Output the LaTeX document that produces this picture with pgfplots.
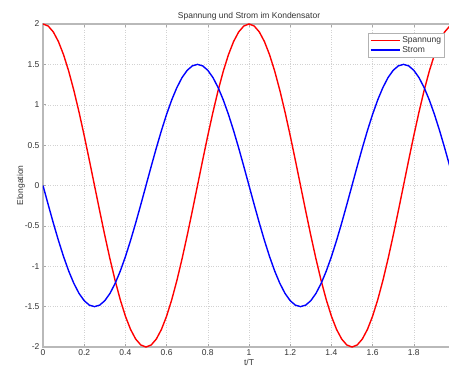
\documentclass[border=0pt]{standalone}
\usepackage{pgfplots}
\pgfplotsset{compat=1.18}
\usepackage{pgfplotstable}
\usepackage{fontspec}
\setmainfont{Liberation Sans}
\pgfplotstableread{
t u i
0 2 0
0.025 1.9754 -0.2346
0.05 1.9021 -0.4635
0.075 1.7820 -0.6810
0.1 1.6180 -0.8817
0.125 1.4142 -1.0607
0.15 1.1756 -1.2135
0.175 0.9080 -1.3365
0.2 0.6180 -1.4266
0.225 0.3129 -1.4815
0.25 0 -1.5
0.275 -0.3129 -1.4815
0.3 -0.6180 -1.4266
0.325 -0.9080 -1.3365
0.35 -1.1756 -1.2135
0.375 -1.4142 -1.0607
0.4 -1.6180 -0.8817
0.425 -1.7820 -0.6810
0.45 -1.9021 -0.4635
0.475 -1.9754 -0.2346
0.5 -2 0
0.525 -1.9754 0.2346
0.55 -1.9021 0.4635
0.575 -1.7820 0.6810
0.6 -1.6180 0.8817
0.625 -1.4142 1.0607
0.65 -1.1756 1.2135
0.675 -0.9080 1.3365
0.7 -0.6180 1.4266
0.725 -0.3129 1.4815
0.75 0 1.5
0.775 0.3129 1.4815
0.8 0.6180 1.4266
0.825 0.9080 1.3365
0.85 1.1756 1.2135
0.875 1.4142 1.0607
0.9 1.6180 0.8817
0.925 1.7820 0.6810
0.95 1.9021 0.4635
0.975 1.9754 0.2346
1 2 0
1.025 1.9754 -0.2346
1.05 1.9021 -0.4635
1.075 1.7820 -0.6810
1.1 1.6180 -0.8817
1.125 1.4142 -1.0607
1.15 1.1756 -1.2135
1.175 0.9080 -1.3365
1.2 0.6180 -1.4266
1.225 0.3129 -1.4815
1.25 0 -1.5
1.275 -0.3129 -1.4815
1.3 -0.6180 -1.4266
1.325 -0.9080 -1.3365
1.35 -1.1756 -1.2135
1.375 -1.4142 -1.0607
1.4 -1.6180 -0.8817
1.425 -1.7820 -0.6810
1.45 -1.9021 -0.4635
1.475 -1.9754 -0.2346
1.5 -2 0
1.525 -1.9754 0.2346
1.55 -1.9021 0.4635
1.575 -1.7820 0.6810
1.6 -1.6180 0.8817
1.625 -1.4142 1.0607
1.65 -1.1756 1.2135
1.675 -0.9080 1.3365
1.7 -0.6180 1.4266
1.725 -0.3129 1.4815
1.75 0 1.5
1.775 0.3129 1.4815
1.8 0.6180 1.4266
1.825 0.9080 1.3365
1.85 1.1756 1.2135
1.875 1.4142 1.0607
1.9 1.6180 0.8817
1.925 1.7820 0.6810
1.95 1.9021 0.4635
1.975 1.9754 0.2346
2 2 0
}\datatable
\begin{document}
\begin{tikzpicture}[x=1pt,y=1pt]
\begin{axis}[
  scale only axis,
  width=412pt, height=323pt,
  at={(43pt,25pt)}, anchor=south west,
  xmin=0, xmax=2, ymin=-2, ymax=2,
  xtick={0,0.2,...,1.8},
  xticklabels={0,0.2,0.4,0.6,0.8,1,1.2,1.4,1.6,1.8},
  ytick={-2,-1.5,...,2},
  yticklabels={-2,-1.5,-1,-0.5,0,0.5,1,1.5,2},
  axis line style={gray!55, line width=1.2pt},
  tick style={gray!70, line width=0.5pt},
  tick align=inside, major tick length=3pt,
  grid=major,
  major grid style={gray!35, dotted, line width=0.4pt},
  ticklabel style={font=\fontsize{8.5}{10}\selectfont, text=black!80},
  xticklabel style={yshift=1pt},
  title={Spannung und Strom im Kondensator},
  title style={font=\fontsize{8.5}{10}\selectfont, text=black!80, yshift=-6pt},
  xlabel={t/T},
  ylabel={Elongation},
  label style={font=\fontsize{8.5}{10}\selectfont, text=black!80},
  xlabel style={yshift=3pt},
  ylabel style={yshift=-7pt},
  legend style={at={(0.789,0.972)}, anchor=north west, draw=gray!60, fill=white,
    font=\fontsize{8.5}{10}\selectfont, text=black!80, cells={anchor=west},
    inner sep=1.5pt, row sep=-2pt},
  legend image code/.code={\draw[#1, line width=1.5pt] (0pt,0pt) -- (29pt,0pt);},
]
\addplot[red, line width=1.4pt] table[x=t, y=u] {\datatable};
\addlegendentry{Spannung}
\addplot[blue, line width=1.4pt] table[x=t, y=i] {\datatable};
\addlegendentry{Strom}
\end{axis}
\pgfresetboundingbox
\path[use as bounding box] (0,0) rectangle (449pt,372pt);
\end{tikzpicture}
\end{document}
